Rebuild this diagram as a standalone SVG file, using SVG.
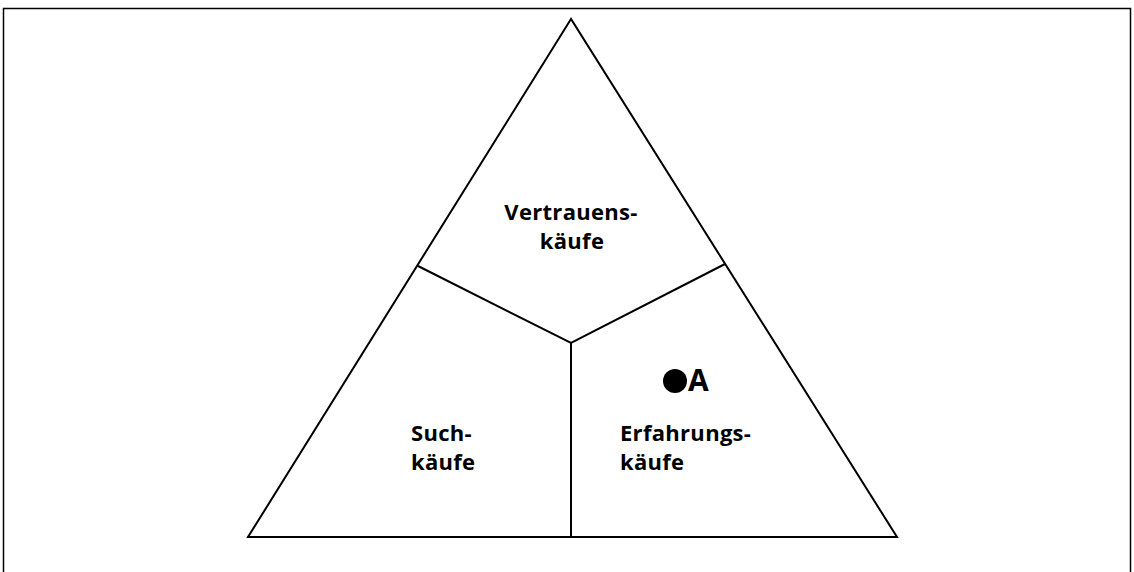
<svg xmlns="http://www.w3.org/2000/svg" width="1134" height="572" viewBox="0 0 1134 572">
<style>
.ln{fill:none;stroke:#000;stroke-width:2}
.t{font-family:"Open Sans","DejaVu Sans",sans-serif;font-weight:bold;font-size:22px;letter-spacing:0.3px;fill:#000}
</style>
<rect x="0" y="0" width="1134" height="572" fill="#fff"/>
<rect x="3.5" y="8.5" width="1127" height="600" fill="none" stroke="#000" stroke-width="1.5"/>
<g id="connectors">
<polygon class="ln" points="571,19 248,537 897,537"/>
<polyline class="ln" points="418,266 571,343 725,264"/>
<line class="ln" x1="571" y1="343" x2="571" y2="537"/>
</g>
<g id="vertrauen"><text class="t" x="571" y="220" text-anchor="middle">Vertrauens-</text><text class="t" x="572" y="249" text-anchor="middle">käufe</text></g>
<g id="such"><text class="t" x="411" y="441">Such-</text><text class="t" x="411" y="470">käufe</text></g>
<g id="erfahrung"><text class="t" x="620" y="441">Erfahrungs-</text><text class="t" x="620" y="470">käufe</text></g>
<g id="A"><circle cx="675" cy="381" r="12" fill="#000"/><text x="688" y="391" style="font-family:'Open Sans','DejaVu Sans',sans-serif;font-weight:bold;font-size:30px">A</text></g>
</svg>
